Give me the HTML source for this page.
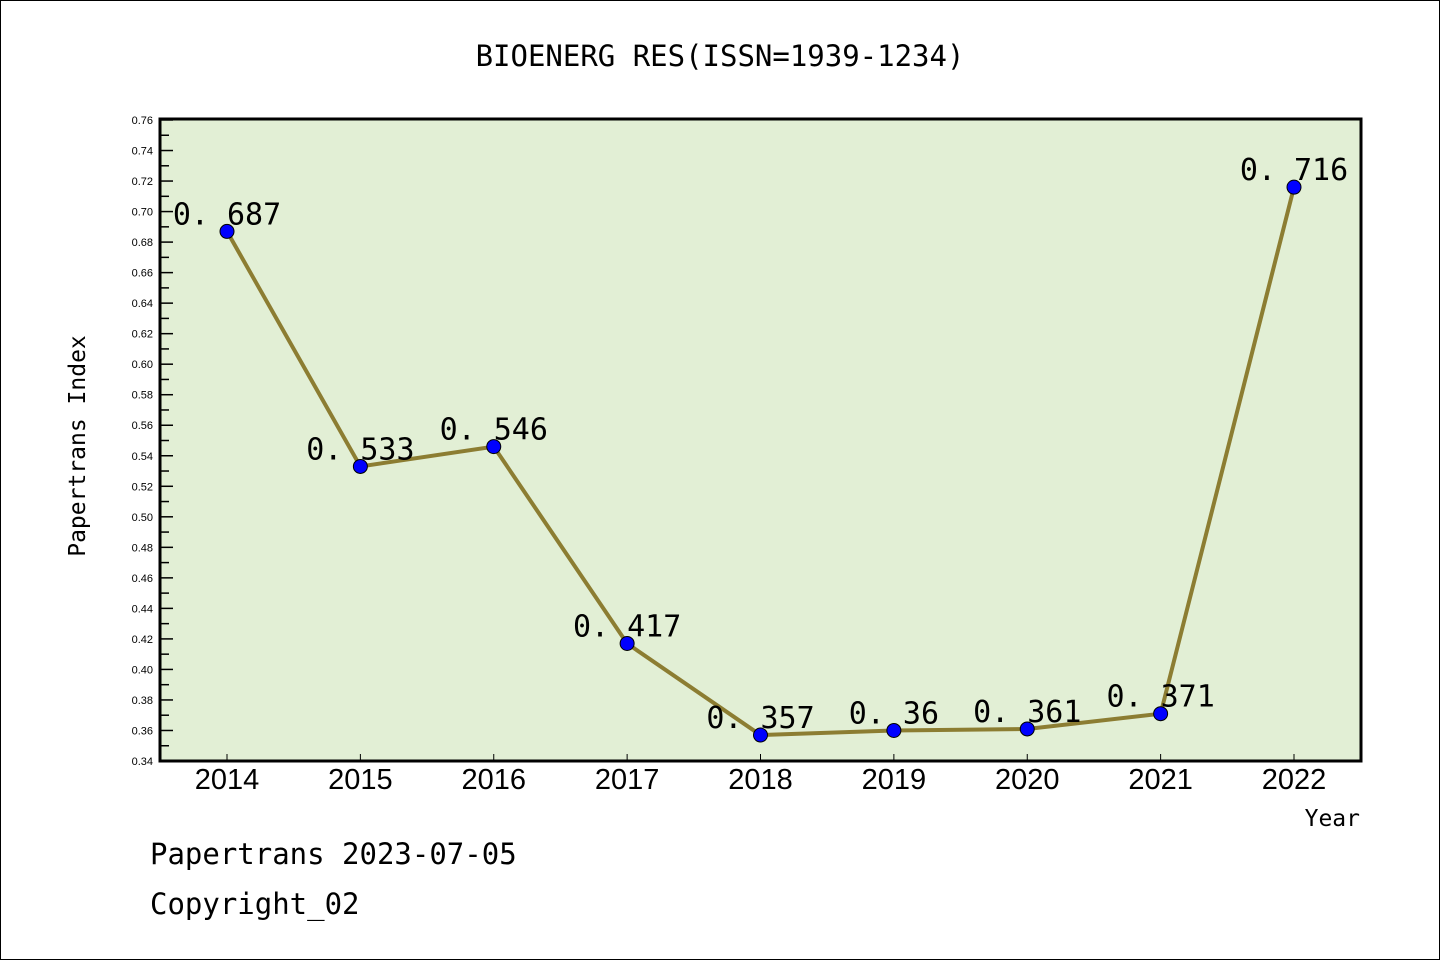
<!DOCTYPE html>
<html><head><meta charset="utf-8"><style>
body{margin:0;background:#fff}
svg{display:block;font-family:"Liberation Sans","WenQuanYi Zen Hei",sans-serif}
</style></head><body>
<svg width="1440" height="960" viewBox="0 0 1440 960">
<rect x="0.5" y="0.5" width="1439" height="959" fill="#fff" stroke="#000"/>
<text x="720" y="66" text-anchor="middle" font-size="29" font-family="'WenQuanYi Zen Hei',monospace">BIOENERG RES(ISSN=1939-1234)</text>
<rect x="160" y="120" width="1201" height="641" fill="#e2efd5"/>
<g id="yaxis"></g>
<g id="xaxis"></g>
<g id="series"></g>
<path d="M160,119 V761 H1361 V119 Z" fill="none" stroke="#000" stroke-width="3"/>
<text transform="translate(85,446) rotate(-90)" text-anchor="middle" font-size="23" font-family="'WenQuanYi Zen Hei',monospace">Papertrans Index</text>
<text x="1360" y="826" text-anchor="end" font-size="23" font-family="'WenQuanYi Zen Hei',monospace">Year</text>
<text x="150" y="864" font-size="29" font-family="'WenQuanYi Zen Hei',monospace">Papertrans 2023-07-05</text>
<text x="150" y="914" font-size="29" font-family="'WenQuanYi Zen Hei',monospace">Copyright_02</text>
</svg>
<script>
const years=[2014,2015,2016,2017,2018,2019,2020,2021,2022];
const values=[0.687,0.533,0.546,0.417,0.357,0.36,0.361,0.371,0.716];
const labels=["0.687","0.533","0.546","0.417","0.357","0.36","0.361","0.371","0.716"];
const yTicks=[0.34,0.36,0.38,0.40,0.42,0.44,0.46,0.48,0.50,0.52,0.54,0.56,0.58,0.60,0.62,0.64,0.66,0.68,0.70,0.72,0.74,0.76];
const NS="http://www.w3.org/2000/svg";
const yMin=0.34,yMax=0.76,yTop=120,yBot=761;
function yS(v){return yBot-(v-yMin)/(yMax-yMin)*(yBot-yTop);}
function xS(i){return 227+i*(1294-227)/(years.length-1);}
function mk(t,a,p){const e=document.createElementNS(NS,t);for(const k in a)e.setAttribute(k,a[k]);p.appendChild(e);return e;}
const ya=document.getElementById('yaxis');
yTicks.forEach((t,i)=>{
  const l=mk('line',{x1:160,x2:173,y1:yS(t),y2:yS(t),stroke:'#000','stroke-width':1.5},ya);
  
  
  const tx=mk('text',{x:153,y:yS(t)+4,'text-anchor':'end','font-size':11},ya);
  tx.textContent=t.toFixed(2);
  
  
  if(i<yTicks.length-1){
    const m=mk('line',{x1:160,x2:169,y1:yS(t+0.01),y2:yS(t+0.01),stroke:'#000','stroke-width':1.5},ya);
    
    
  }
});
const xa=document.getElementById('xaxis');
years.forEach((yr,i)=>{
  const l=mk('line',{x1:xS(i),x2:xS(i),y1:761,y2:754,stroke:'#000','stroke-width':1},xa);
  
  
  const t=mk('text',{x:xS(i),y:789,'text-anchor':'middle','font-size':29},xa);
  t.textContent=yr;
  
  
});
const s=document.getElementById('series');
const pl=mk('polyline',{points:values.map((v,i)=>xS(i)+','+yS(v)).join(' '),fill:'none',stroke:'#8c7d32','stroke-width':4},s);


values.forEach((v,i)=>{
  const c=mk('circle',{cx:xS(i),cy:yS(v),r:7,fill:'#0000ff',stroke:'#000','stroke-width':1},s);
  
  
  const t=mk('text',{x:xS(i),y:yS(v)-7,'text-anchor':'middle','font-size':30,'font-family':"'WenQuanYi Zen Hei',monospace"},s);
  t.textContent=labels[i].replace('.','. ');
  
  
});
</script>
</body></html>
